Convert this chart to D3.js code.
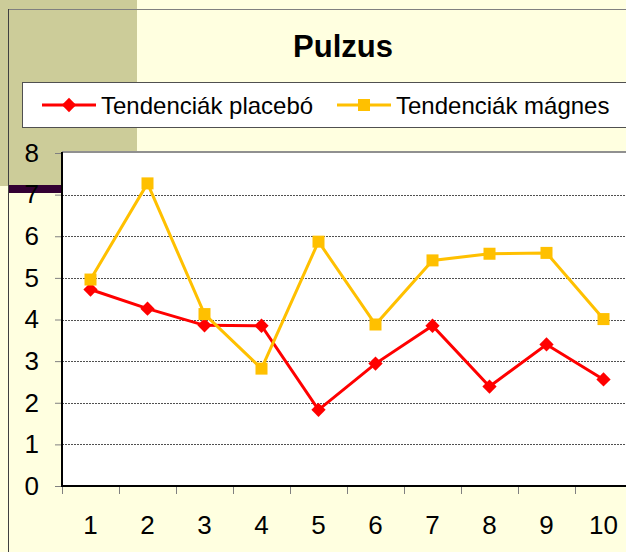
<!DOCTYPE html>
<html>
<head>
<meta charset="utf-8">
<script src="https://cdn.jsdelivr.net/npm/d3@7"></script>
<style>
  body { margin: 0; background: #FFFFE0; }
  svg { display: block; font-family: Arial, "Liberation Sans", sans-serif; }
</style>
</head>
<body>
<svg id="chart" viewBox="0 0 626 552" width="626" height="552"></svg>
<script>
// chart data
const categories = ["1", "2", "3", "4", "5", "6", "7", "8", "9", "10"];
const placebo = [4.72, 4.26, 3.86, 3.85, 1.83, 2.94, 3.85, 2.39, 3.40, 2.56];
const magnes = [4.96, 7.27, 4.13, 2.82, 5.87, 3.88, 5.42, 5.58, 5.60, 4.01];
const yTicks = [0, 1, 2, 3, 4, 5, 6, 7, 8];
const seriesNames = ["Tendenciák placebó", "Tendenciák mágnes"];
const seriesColors = ["#FF0000", "#FFC000"];

const svg = d3.select("#chart");

// background decorations
svg.append("rect").attr("x", 0).attr("y", 0).attr("width", 626).attr("height", 552).attr("fill", "#FFFFE0");
svg.append("rect").attr("x", 0).attr("y", 0).attr("width", 137).attr("height", 186).attr("fill", "#CCCC99");
svg.append("rect").attr("x", 8).attr("y", 185).attr("width", 54).attr("height", 8).attr("fill", "#330033");
svg.append("line").attr("x1", 8).attr("x2", 626).attr("y1", 9.5).attr("y2", 9.5)
    .attr("stroke", "#808080").attr("stroke-width", 1);
svg.append("line").attr("x1", 8.5).attr("x2", 8.5).attr("y1", 9).attr("y2", 552)
    .attr("stroke", "#404040").attr("stroke-width", 1);

// title
svg.append("text")
    .attr("x", 343).attr("y", 57)
    .attr("text-anchor", "middle")
    .attr("font-size", 31).attr("font-weight", "bold")
    .text("Pulzus");

// scales
const x = d3.scaleBand().domain(categories).range([62, 632]);
const y = d3.scaleLinear().domain([0, 8]).range([486, 153]);

// plot area
svg.append("rect").attr("x", 62).attr("y", 153).attr("width", 580).attr("height", 333).attr("fill", "#FFFFFF");
svg.append("line").attr("x1", 62).attr("x2", 640).attr("y1", 152).attr("y2", 152)
    .attr("stroke", "#909090").attr("stroke-width", 2);

// gridlines
svg.append("g")
    .selectAll("line")
    .data(yTicks.filter(d => d > 0 && d < 8))
    .enter()
    .append("line")
    .attr("x1", 62).attr("x2", 640)
    .attr("y1", d => Math.round(y(d)) + 0.5).attr("y2", d => Math.round(y(d)) + 0.5)
    .attr("stroke", "#505050").attr("stroke-width", 1)
    .attr("stroke-dasharray", "2,1");

// y axis
const yAxis = svg.append("g").attr("transform", "translate(62,0)")
    .call(d3.axisLeft(y).tickValues(yTicks).tickSize(7).tickPadding(16).tickFormat(d3.format("d")));
yAxis.select(".domain").remove();
yAxis.selectAll(".tick line").attr("stroke", "#808080");
yAxis.selectAll("text").attr("font-size", 26).attr("fill", "#000").attr("font-family", "Arial, 'Liberation Sans', sans-serif");
svg.append("line").attr("x1", 62).attr("x2", 62).attr("y1", 152).attr("y2", 487)
    .attr("stroke", "#000").attr("stroke-width", 2);

// x axis
const xAxis = svg.append("g").attr("transform", "translate(0,486)")
    .call(d3.axisBottom(x).tickSize(0).tickPadding(30));
xAxis.select(".domain").remove();
xAxis.selectAll("text").attr("font-size", 26).attr("fill", "#000").attr("font-family", "Arial, 'Liberation Sans', sans-serif");
svg.append("g")
    .selectAll("line")
    .data(categories)
    .enter()
    .append("line")
    .attr("x1", d => x(d) + 0.5).attr("x2", d => x(d) + 0.5)
    .attr("y1", 486).attr("y2", 494)
    .attr("stroke", "#808080");
svg.append("line").attr("x1", 61).attr("x2", 640).attr("y1", 486).attr("y2", 486)
    .attr("stroke", "#000").attr("stroke-width", 2);

// series
const cx = (d, i) => x(categories[i]) + x.bandwidth() / 2;
const line = d3.line().x(cx).y(d => y(d));

[placebo, magnes].forEach((values, s) => {
    svg.append("path")
        .datum(values)
        .attr("fill", "none")
        .attr("stroke", seriesColors[s])
        .attr("stroke-width", 3)
        .attr("d", line);
});

// diamond markers
const diamond = d3.symbol().type(d3.symbolDiamond2).size(130);
svg.append("g")
    .selectAll("path")
    .data(placebo)
    .enter()
    .append("path")
    .attr("d", diamond)
    .attr("transform", (d, i) => `translate(${cx(d, i)},${y(d)})`)
    .attr("fill", seriesColors[0]);

// square markers
svg.append("g")
    .selectAll("rect")
    .data(magnes)
    .enter()
    .append("rect")
    .attr("x", (d, i) => cx(d, i) - 6)
    .attr("y", d => y(d) - 6)
    .attr("width", 12).attr("height", 12)
    .attr("fill", seriesColors[1]);

// legend
const legend = svg.append("g");
legend.append("rect")
    .attr("x", 22.5).attr("y", 82.5).attr("width", 640).attr("height", 45)
    .attr("fill", "#FFFFFF").attr("stroke", "#505050");

const legendX = [42, 337];
seriesNames.forEach((name, s) => {
    const g = legend.append("g").attr("transform", `translate(${legendX[s]},105)`);
    g.append("line").attr("x1", 0).attr("x2", 54).attr("y1", 0).attr("y2", 0)
        .attr("stroke", seriesColors[s]).attr("stroke-width", 3);
    if (s === 0) {
        g.append("path").attr("d", diamond).attr("transform", "translate(27,0)").attr("fill", seriesColors[s]);
    } else {
        g.append("rect").attr("x", 21).attr("y", -6).attr("width", 12).attr("height", 12).attr("fill", seriesColors[s]);
    }
    g.append("text").attr("x", 59).attr("y", 9)
        .attr("font-size", 24)
        .text(name);
});
</script>
</body>
</html>
